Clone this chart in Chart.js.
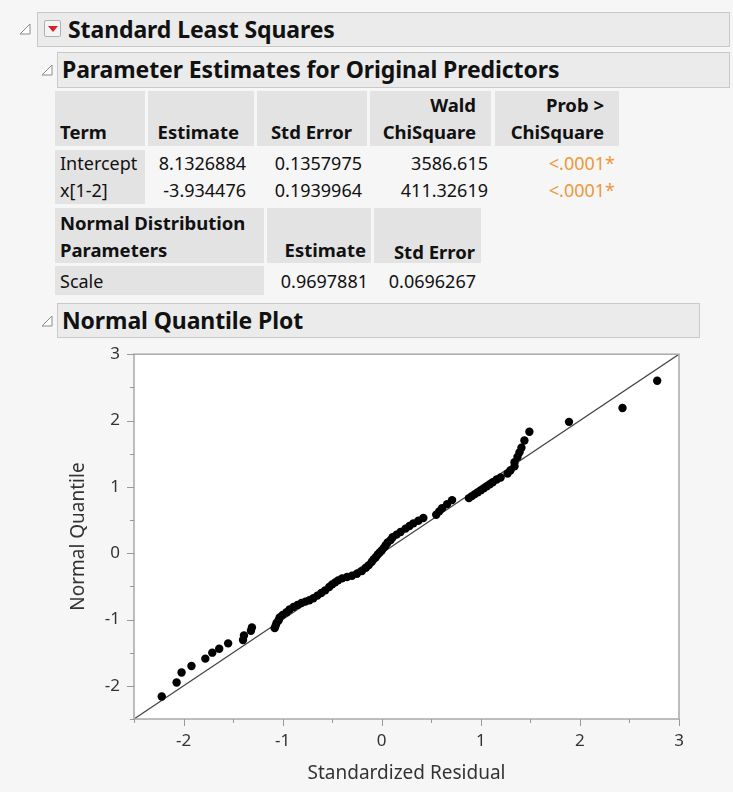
<!DOCTYPE html>
<html>
<head>
<meta charset="utf-8">
<script src="https://cdn.jsdelivr.net/npm/chart.js@4.4.0/dist/chart.umd.min.js"></script>
<style>
body { margin:0; width:733px; height:792px; position:relative; overflow:hidden; background:#f6f6f6;
       font-family:"Noto Sans","Open Sans",sans-serif; color:#111; }
.hdr { position:absolute; background:#ebebeb; border:1px solid #c9c9c9; box-sizing:border-box;
       font-weight:bold; font-size:23px; line-height:33px; padding-left:4px; letter-spacing:-0.1px; }
.tri { position:absolute; }
.cell { position:absolute; box-sizing:border-box; font-size:18px; line-height:27px; white-space:nowrap; }
.gh { background:#e3e3e3; font-weight:bold; font-size:18.5px; }
.gr { background:#e3e3e3; }
.r { text-align:right; }
.orange { color:#f0963c; }
#wrap { position:absolute; left:0; top:330px; width:733px; height:462px; }
</style>
</head>
<body>

<svg class="tri" style="left:19px;top:23px" width="12" height="12"><polygon points="1,11 11,11 11,1" fill="#fff" stroke="#8a8a8a"/></svg>
<div class="hdr" style="left:37px;top:12px;width:693px;height:35px;padding-left:30px">Standard Least Squares</div>
<div style="position:absolute;left:44px;top:20px;width:17px;height:17px;box-sizing:border-box;border:1px solid #b0b0b0;border-radius:2px;background:#f4f4f4"></div>
<svg class="tri" style="left:47px;top:25px" width="12" height="8"><polygon points="1,1 11,1 6,7" fill="#d8202a"/></svg>

<svg class="tri" style="left:41px;top:64px" width="12" height="12"><polygon points="1,11 11,11 11,1" fill="#fff" stroke="#8a8a8a"/></svg>
<div class="hdr" style="left:57px;top:52px;width:673px;height:36px">Parameter Estimates for Original Predictors</div>

<div id="tables"></div>

<svg class="tri" style="left:41px;top:315px" width="12" height="12"><polygon points="1,11 11,11 11,1" fill="#fff" stroke="#8a8a8a"/></svg>
<div class="hdr" style="left:57px;top:303px;width:643px;height:35px">Normal Quantile Plot</div>

<div id="wrap"><canvas id="qplot" width="733" height="462"></canvas></div>

<script>
/* ---- table contents ---- */
var TERMS      = ['Intercept', 'x[1-2]'];
var ESTIMATES  = ['8.1326884', '-3.934476'];
var STD_ERRORS = ['0.1357975', '0.1939964'];
var WALD_CHI   = ['3586.615', '411.32619'];
var PROB_CHI   = ['<.0001*', '<.0001*'];
var SCALE_EST  = '0.9697881';
var SCALE_SE   = '0.0696267';

/* ---- plot data (standardized residual vs normal quantile) ---- */
var RESID = [-2.22,-2.07,-2.02,-1.92,-1.78,-1.71,-1.64,-1.55,-1.40,-1.39,-1.32,-1.31,
  -1.08,-1.07,-1.06,-1.04,-1.03,-1.00,-0.96,-0.93,-0.89,-0.85,-0.81,-0.77,-0.73,-0.69,-0.65,-0.61,
  -0.57,-0.53,-0.50,-0.47,-0.44,-0.40,-0.35,-0.30,-0.25,-0.20,-0.16,-0.13,-0.10,-0.08,-0.06,-0.04,
  -0.02,0.00,0.02,0.04,0.06,0.09,0.11,0.15,0.19,0.24,0.28,0.32,0.37,0.42,0.55,0.58,0.61,0.66,0.71,
  0.88,0.91,0.94,0.97,1.00,1.03,1.06,1.09,1.12,1.16,1.20,1.27,1.30,1.34,1.34,1.37,1.39,1.41,1.44,1.49,
  1.89,2.43,2.78];
var QUANT = [-2.16,-1.95,-1.80,-1.70,-1.59,-1.50,-1.44,-1.36,-1.31,-1.24,-1.17,-1.12,
  -1.13,-1.09,-1.05,-1.01,-0.97,-0.93,-0.89,-0.85,-0.81,-0.78,-0.75,-0.73,-0.71,-0.68,-0.64,-0.60,
  -0.56,-0.51,-0.47,-0.44,-0.41,-0.38,-0.36,-0.34,-0.31,-0.27,-0.22,-0.18,-0.13,-0.09,-0.06,-0.02,
  0.01,0.04,0.08,0.12,0.16,0.20,0.24,0.28,0.32,0.37,0.41,0.45,0.49,0.53,0.58,0.63,0.68,0.74,0.80,
  0.83,0.86,0.89,0.92,0.95,0.98,1.01,1.04,1.07,1.11,1.14,1.20,1.25,1.31,1.37,1.45,1.52,1.59,1.70,1.83,
  1.98,2.19,2.60];
var REF_X   = [-2.5, 3];
var REF_Y   = [-2.5, 3];
var X_TICKS = [-2, -1, 0, 1, 2, 3];
var Y_TICKS = [-2, -1, 0, 1, 2, 3];
var MINOR   = [-2.5, -1.5, -0.5, 0.5, 1.5, 2.5];

/* ---- tables ---- */
function cell(l, t, w, h, html, cls, style) {
    return '<div class="cell ' + (cls || '') + '" style="left:' + l + 'px;top:' + t + 'px;width:' + w + 'px;height:' + h + 'px;' + (style || '') + '">' + html + '</div>';
}
function hcell(l, w, lines, right) {
    // header cell, text at bottom
    var inner = '<div style="position:absolute;bottom:1px;' + (right ? 'right:15px;text-align:right' : 'left:5px') + '">' + lines.join('<br>') + '</div>';
    return cell(l, 91, w, 55, inner, 'gh');
}
function escHtml(s) { var d = document.createElement('div'); d.textContent = s; return d.innerHTML; }

var h = '';
h += hcell(55, 90, ['Term'], false);
h += hcell(148, 106, ['Estimate'], true);
h += hcell(257, 110, ['Std Error'], true);
h += hcell(370, 121, ['Wald', 'ChiSquare'], true);
h += hcell(495, 124, ['Prob &gt;', 'ChiSquare'], true);
TERMS.forEach(function(t, i) {
    var top = 150 + i * 27;
    h += cell(55, top, 90, 27, '<span style="padding-left:5px">' + escHtml(t) + '</span>', 'gr');
    h += cell(148, top, 98, 27, ESTIMATES[i], 'r');
    h += cell(257, top, 105, 27, STD_ERRORS[i], 'r');
    h += cell(370, top, 118, 27, WALD_CHI[i], 'r');
    h += cell(495, top, 120, 27, escHtml(PROB_CHI[i]), 'r orange');
});
h += cell(55, 208, 209, 55, '<div style="position:absolute;bottom:0;left:5px">Normal Distribution<br>Parameters</div>', 'gh');
h += cell(267, 208, 104, 55, '<div style="position:absolute;bottom:0;right:5px">Estimate</div>', 'gh');
h += cell(374, 208, 107, 55, '<div style="position:absolute;bottom:-2px;right:6px">Std Error</div>', 'gh');
h += cell(55, 266, 209, 29, '<span style="padding-left:5px">Scale</span>', 'gr', 'line-height:30px');
h += cell(267, 266, 101, 29, SCALE_EST, 'r', 'line-height:30px');
h += cell(374, 266, 102, 29, SCALE_SE, 'r', 'line-height:30px');
document.getElementById('tables').innerHTML = h;

/* ---- frame, white plot area, major/minor ticks ---- */
var framePlugin = {
    id: 'frame',
    beforeDraw: function(chart) {
        var a = chart.chartArea, c = chart.ctx;
        c.save(); c.fillStyle = '#fff';
        c.fillRect(a.left, a.top, a.right - a.left, a.bottom - a.top);
        c.restore();
    },
    afterDatasetsDraw: function(chart) {
        var a = chart.chartArea, c = chart.ctx, sx = chart.scales.x, sy = chart.scales.y;
        c.save();
        c.strokeStyle = '#a9a9a9'; c.lineWidth = 1.5;
        c.strokeRect(a.left, a.top, a.right - a.left, a.bottom - a.top);
        c.lineWidth = 1; c.strokeStyle = '#999';
        c.beginPath();
        X_TICKS.forEach(function(v) { var p = Math.round(sx.getPixelForValue(v)) + 0.5; c.moveTo(p, a.bottom); c.lineTo(p, a.bottom + 7); });
        MINOR.forEach(function(v) { var p = Math.round(sx.getPixelForValue(v)) + 0.5; c.moveTo(p, a.bottom); c.lineTo(p, a.bottom + 4); });
        Y_TICKS.forEach(function(v) { var p = Math.round(sy.getPixelForValue(v)) + 0.5; c.moveTo(a.left, p); c.lineTo(a.left - 7, p); });
        MINOR.forEach(function(v) { var p = Math.round(sy.getPixelForValue(v)) + 0.5; c.moveTo(a.left, p); c.lineTo(a.left - 4, p); });
        c.stroke();
        c.restore();
    }
};

var FONT = '"Noto Sans","Open Sans",sans-serif';
new Chart(document.getElementById('qplot'), {
    type: 'scatter',
    data: {
        datasets: [{
            data: RESID.map(function(x, i) { return { x: x, y: QUANT[i] }; }),
            backgroundColor: '#000', borderColor: '#000', pointRadius: 4.2, borderWidth: 0, order: 0
        }, {
            type: 'line',
            data: REF_X.map(function(x, i) { return { x: x, y: REF_Y[i] }; }),
            borderColor: '#444', borderWidth: 1.2, pointRadius: 0, fill: false, order: 1
        }]
    },
    options: {
        responsive: false, animation: false, events: [],
        layout: { padding: { top: 23, right: 54, left: 0, bottom: 0 } },
        plugins: { legend: { display: false }, tooltip: { enabled: false } },
        scales: {
            x: {
                type: 'linear', min: -2.5, max: 3,
                afterBuildTicks: function(s) { s.ticks = X_TICKS.map(function(v) { return { value: v }; }); },
                afterFit: function(s) { s.height = 73; },
                grid: { display: false, drawTicks: false },
                border: { display: false },
                ticks: { color: '#333', font: { family: FONT, size: 17 }, padding: 12, maxRotation: 0 },
                title: { display: true, text: 'Standardized Residual', color: '#333',
                         font: { family: FONT, size: 19 }, padding: { top: 0, bottom: 7 } }
            },
            y: {
                type: 'linear', min: -2.5, max: 3,
                afterBuildTicks: function(s) { s.ticks = Y_TICKS.map(function(v) { return { value: v }; }); },
                afterFit: function(s) { s.width = 134; },
                grid: { display: false, drawTicks: false },
                border: { display: false },
                ticks: { color: '#333', font: { family: FONT, size: 17 }, padding: 14 },
                title: { display: true, text: 'Normal Quantile', color: '#333',
                         font: { family: FONT, size: 19 }, padding: { top: 67, bottom: 0 } }
            }
        }
    },
    plugins: [framePlugin]
});
</script>
</body>
</html>
